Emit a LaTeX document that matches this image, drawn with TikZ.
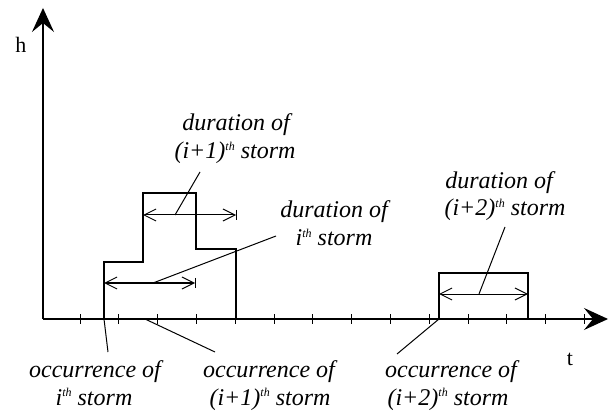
\documentclass[tikz,border=0pt]{standalone}
\usepackage{fontspec}
\setmainfont{Liberation Serif}
\usetikzlibrary{arrows.meta}
\newcommand{\thsup}{\raisebox{0.75ex}{\fontsize{12}{12}\selectfont th}}
\begin{document}
\begin{tikzpicture}[x=1pt,y=-1pt,
  ln/.style={line width=1.1pt, black},
  axisarrow/.style={ln, -{Stealth[length=24pt,width=22pt,inset=9pt]}},
  dur/.style={line width=1pt, {Straight Barb[length=12pt,width=12pt]}-{Straight Barb[length=12pt,width=12pt]}},
  leader/.style={line width=1pt},
  lbl/.style={font=\fontsize{24}{27}\selectfont\itshape, inner sep=0pt, anchor=base},
  axlbl/.style={font=\fontsize{22}{26}\selectfont, inner sep=0pt, anchor=base},
  tickmark/.style={line width=0.9pt}]
\useasboundingbox (0,0) rectangle (616,414);
% axes
\coordinate (O) at (43,319);
\coordinate (ytip) at (43,8);
\coordinate (xtip) at (608,319);
\foreach \k in {0,...,13}
  \draw[tickmark] ({80+38.8*\k},314) -- ({80+38.8*\k},324);
\draw[axisarrow] (O) -- (ytip);
\draw[axisarrow] (O) -- (xtip);
\node[axlbl] (h) at (21,53) {h};
\node[axlbl] (t) at (570,365) {t};
% storm profiles
\coordinate (si0) at (104,319);
\coordinate (si1) at (143,319);
\coordinate (si2) at (439,319);
\draw[ln] (si0) -- (104,262) -- (143,262) -- (143,193) -- (196,193) -- (196,249) -- (236,249) -- (236,319);
\draw[ln] (si2) -- (439,273) -- (528,273) -- (528,319);
% durations
\coordinate (d1a) at (143,215); \coordinate (d1b) at (236,215);
\coordinate (d0a) at (104,283); \coordinate (d0b) at (195,283);
\coordinate (d2a) at (439,294); \coordinate (d2b) at (528,294);
\draw[dur] (d1a) -- (d1b);
\draw[leader] (d1b) ++(0,-5) -- ++(0,10);
\draw[dur] (d0a) -- (d0b);
\draw[leader] (d0b) ++(0,-5) -- ++(0,10);
\draw[dur] (d2a) -- (d2b);
% duration labels
\node[lbl] (durAa) at (236,131) {duration of};
\node[lbl] (durAb) at (235,159) {(i+1)\thsup{} storm};
\node[lbl] (durBa) at (334,218) {duration of};
\node[lbl] (durBb) at (334,246) {i\thsup{} storm};
\node[lbl] (durCa) at (499,189) {duration of};
\node[lbl] (durCb) at (505,216) {(i+2)\thsup{} storm};
% duration leaders
\coordinate (lA) at (200,172);
\coordinate (lB) at (276,236);
\coordinate (lC) at (505,227);
\draw[leader] (175,215) -- (lA);
\draw[leader] (153,283) -- (lB);
\draw[leader] (479,294) -- (lC);
% occurrence labels
\node[lbl] (occAa) at (95,377) {occurrence of};
\node[lbl] (occAb) at (94,405) {i\thsup{} storm};
\node[lbl] (occBa) at (269,377) {occurrence of};
\node[lbl] (occBb) at (270,405) {(i+1)\thsup{} storm};
\node[lbl] (occCa) at (451,377) {occurrence of};
\node[lbl] (occCb) at (448,405) {(i+2)\thsup{} storm};
% occurrence leaders
\coordinate (oA) at (108,352);
\coordinate (oB) at (215,352);
\coordinate (oC) at (397,354);
\draw[leader] (si0) -- (oA);
\draw[leader] (si1) ++(2,0) -- (oB);
\draw[leader] (si2) -- (oC);
\end{tikzpicture}
\end{document}
